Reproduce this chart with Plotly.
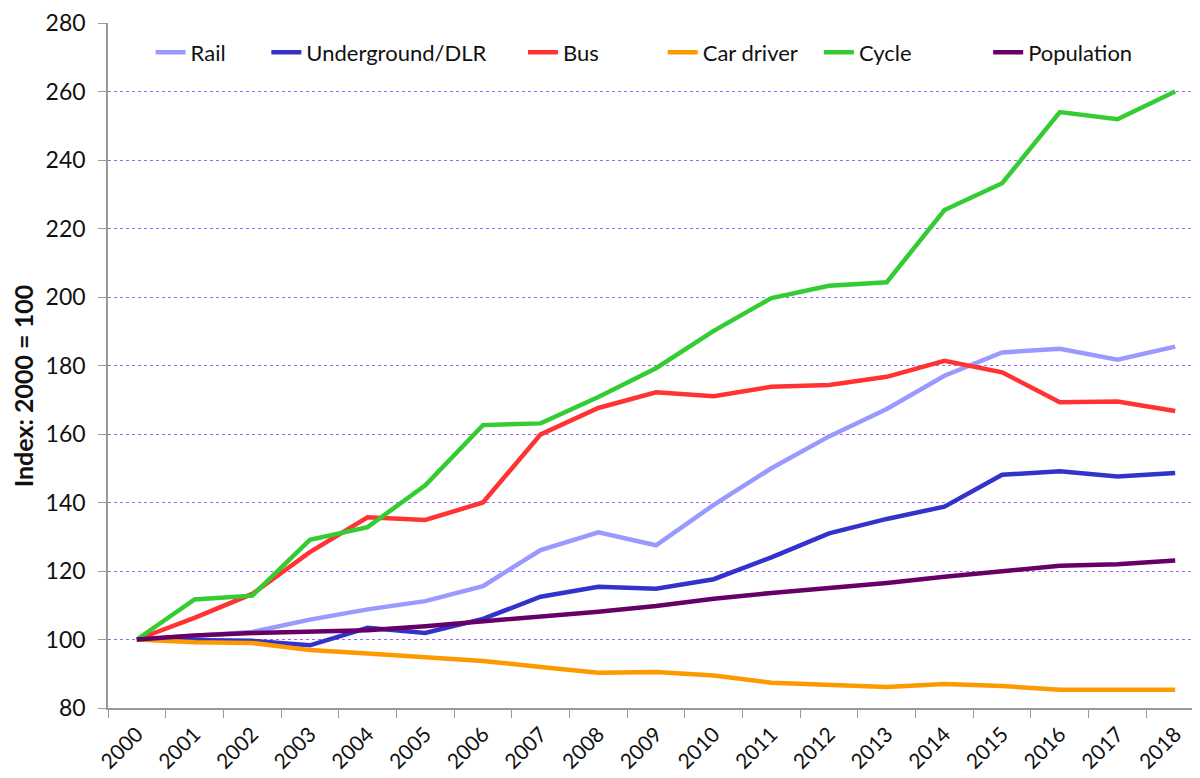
import plotly.graph_objects as go

years = [str(y) for y in range(2000, 2019)]

rail = [100, 101.0, 102.2, 105.8, 108.8, 111.2, 115.6, 126.1, 131.3, 127.5,
        139.3, 150.0, 159.3, 167.3, 177.0, 183.8, 184.9, 181.7, 185.5]
underground = [100, 99.7, 99.6, 98.3, 103.4, 101.9, 106.0, 112.5, 115.4, 114.8,
               117.6, 124.0, 131.0, 135.2, 138.8, 148.1, 149.1, 147.6, 148.6]
bus = [100, 106.3, 113.3, 125.5, 135.7, 134.9, 140.0, 159.9, 167.6, 172.2,
       171.0, 173.8, 174.3, 176.7, 181.4, 178.0, 169.3, 169.5, 166.7]
car_driver = [100, 99.2, 99.0, 96.9, 95.9, 94.8, 93.7, 92.0, 90.3, 90.5,
              89.5, 87.4, 86.6, 86.1, 87.0, 86.4, 85.3, 85.3, 85.3]
cycle = [100, 111.7, 112.8, 129.1, 132.8, 145.0, 162.6, 163.1, 170.8, 179.2,
         190.1, 199.7, 203.3, 204.3, 225.4, 233.2, 254.0, 251.9, 260.0]
population = [100, 101.2, 101.9, 102.2, 102.7, 103.9, 105.2, 106.6, 108.1, 109.8,
              111.9, 113.6, 115.0, 116.5, 118.3, 120.0, 121.5, 122.0, 123.1]

names = ["Rail", "Underground/DLR", "Bus", "Car driver", "Cycle", "Population"]
colours = ["#9999FF", "#3333CC", "#FF3333", "#FF9900", "#33CC33", "#660066"]
values = [rail, underground, bus, car_driver, cycle, population]

# one legend per series so the entries sit where they do in the original
legend_x = [0.039, 0.145, 0.380, 0.508, 0.651, 0.806]

fig = go.Figure()
layout_legends = {}
for i, (name, vals, col) in enumerate(zip(names, values, colours)):
    key = "legend" if i == 0 else "legend%d" % (i + 1)
    fig.add_scatter(x=years, y=vals, name=name, mode="lines", showlegend=True,
                    line=dict(color=col, width=4.5), legend=key)
    layout_legends[key] = dict(orientation="h", x=legend_x[i], y=0.957,
                               xanchor="left", yanchor="middle",
                               font=dict(size=22), bgcolor="rgba(0,0,0,0)")

# page has an 8px body margin, so the figure is 8px smaller than the window
fig.update_layout(
    width=1192, height=770,
    paper_bgcolor="white", plot_bgcolor="white",
    margin=dict(l=99.5, r=0, t=15, b=70),
    font=dict(family="Lato, sans-serif", size=22, color="#111"),
    showlegend=True,
    **layout_legends,
)
fig.update_xaxes(type="category", range=[-0.5, 18.43], tickson="boundaries",
                 ticks="outside", ticklen=8, tickcolor="#999", tickangle=-45,
                 tickfont=dict(size=21), ticklabelstandoff=4, automargin=False,
                 showline=True, linecolor="#999", linewidth=1.5, showgrid=False)
fig.update_yaxes(range=[80, 280], dtick=20, ticks="outside", ticklen=8, tickcolor="#999",
                 tickfont=dict(size=23), ticklabelstandoff=8, automargin=False,
                 showline=True, linecolor="#999", linewidth=1.5,
                 gridcolor="#9966FF", griddash="dot", gridwidth=1,
                 zeroline=False)

# axis title sits a little below the middle of the axis in the original
fig.add_annotation(text="<b>Index: 2000 = 100</b>", textangle=-90,
                   xref="paper", yref="paper", x=0, y=0.469,
                   xanchor="center", yanchor="middle", xshift=-85.5,
                   showarrow=False, font=dict(size=25, color="#111"))

fig.write_html("out.html")
